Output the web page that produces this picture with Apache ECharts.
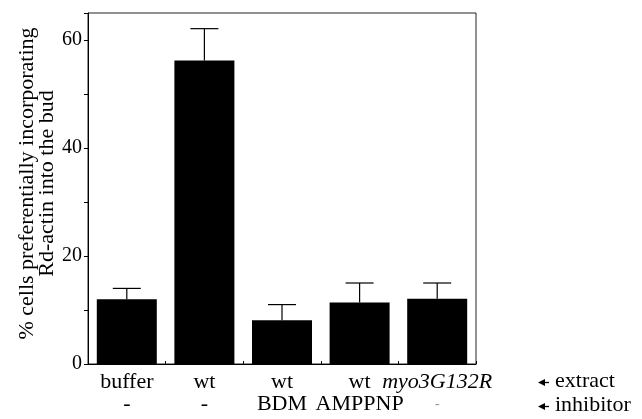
<!DOCTYPE html>
<html>
<head>
<meta charset="utf-8">
<script src="https://cdn.jsdelivr.net/npm/echarts@6/dist/echarts.min.js"></script>
<style>
html,body{margin:0;padding:0;background:#fff;}
#chart{width:642px;height:419px;}
</style>
</head>
<body>
<div id="chart"></div>
<script>
var extracts = ['buffer', 'wt', 'wt', 'wt', 'myo3G132R'];
var inhibitors = ['-', '-', 'BDM', 'AMPPNP', '-'];
var values = [12.0, 56.2, 8.1, 11.4, 12.1];
var errors = [2.0, 5.9, 2.9, 3.6, 2.9];
var yTickLabels = ['0', '20', '40', '60'];

var FONT = '"Liberation Serif", "Times New Roman", serif';
var chart = echarts.init(document.getElementById('chart'), null, {renderer: 'canvas'});

var catKeys = extracts.map(function (e, i) { return 'c' + i; });

var option = {
  animation: false,
  grid: {left: 88, right: 166, top: 13, bottom: 55, containLabel: false, outerBoundsMode: 'none',
         show: true, borderColor: '#222', borderWidth: 1, backgroundColor: 'transparent'},
  xAxis: {
    type: 'category',
    data: catKeys,
    axisLine: {lineStyle: {color: '#000', width: 1}},
    axisTick: {show: true, inside: true, length: 3, lineStyle: {color: '#000'}},
    axisLabel: {
      margin: 7,
      interval: 0,
      formatter: function (v, i) {
        var ex = extracts[i];
        var inh = inhibitors[i];
        var exTag = (ex.indexOf('myo') === 0) ? 'it' : 'ex';
        var inTag = (i === 4) ? 'dash2' : 'inh';
        return '{' + exTag + '|' + ex + '}\n{' + inTag + '|' + inh + '}';
      },
      rich: {
        ex: {fontFamily: FONT, fontSize: 22, color: '#000', lineHeight: 22},
        it: {fontFamily: FONT, fontSize: 22, fontStyle: 'italic', color: '#000', lineHeight: 22},
        inh: {fontFamily: FONT, fontSize: 22, color: '#000', lineHeight: 22},
        dash2: {fontFamily: FONT, fontSize: 15, color: '#999', lineHeight: 22}
      }
    }
  },
  yAxis: {
    type: 'value',
    min: 0,
    max: 65,
    interval: 10,
    name: '% cells preferentially incorporating\nRd-actin into the bud',
    nameLocation: 'middle',
    nameRotate: 90,
    nameGap: 31,
    nameMoveOverlap: false,
    nameTextStyle: {fontFamily: FONT, fontSize: 22, color: '#000', lineHeight: 20, padding: [0, 0, 0, 10]},
    axisLine: {show: true, lineStyle: {color: '#000', width: 1}},
    axisTick: {show: true, length: 4, lineStyle: {color: '#000'}},
    splitLine: {show: false},
    axisLabel: {
      margin: 6,
      fontFamily: FONT, fontSize: 20, color: '#000',
      formatter: function (v) {
        var s = String(v);
        return yTickLabels.indexOf(s) >= 0 ? s : '';
      }
    }
  },
  series: [
    {
      type: 'bar',
      data: values,
      barWidth: 60,
      itemStyle: {color: '#000'},
      z: 2
    },
    {
      type: 'custom',
      z: 3,
      data: values.map(function (v, i) { return [i, v, v + errors[i]]; }),
      renderItem: function (params, api) {
        var x = api.coord([api.value(0), 0])[0];
        var y0 = api.coord([api.value(0), api.value(1)])[1];
        var y1 = api.coord([api.value(0), api.value(2)])[1];
        var hw = 14;
        return {
          type: 'group',
          children: [
            {type: 'line', shape: {x1: x, y1: y0, x2: x, y2: y1}, style: {stroke: '#000', lineWidth: 1.2}},
            {type: 'line', shape: {x1: x - hw, y1: y1, x2: x + hw, y2: y1}, style: {stroke: '#000', lineWidth: 1.2}}
          ]
        };
      }
    }
  ],
  graphic: [
    {type: 'polygon', left: 538, top: 379, shape: {points: [[0, 3.5], [7, 0], [7, 7]]}, style: {fill: '#000'}},
    {type: 'line', shape: {x1: 543, y1: 382.5, x2: 549, y2: 382.5}, style: {stroke: '#000', lineWidth: 1.3}},
    {type: 'text', left: 555, top: 370, style: {text: 'extract', font: '22px ' + FONT, fill: '#000'}},
    {type: 'polygon', left: 538, top: 403, shape: {points: [[0, 3.5], [7, 0], [7, 7]]}, style: {fill: '#000'}},
    {type: 'line', shape: {x1: 543, y1: 406.5, x2: 549, y2: 406.5}, style: {stroke: '#000', lineWidth: 1.3}},
    {type: 'text', left: 555, top: 394, style: {text: 'inhibitor', font: '22px ' + FONT, fill: '#000'}}
  ]
};
chart.setOption(option);
</script>
</body>
</html>
